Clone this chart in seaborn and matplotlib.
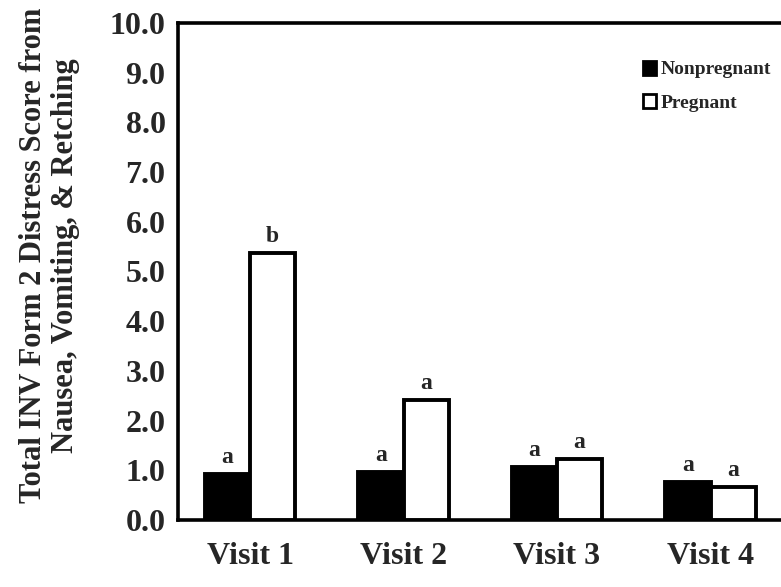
import matplotlib
matplotlib.use("Agg")
import matplotlib.pyplot as plt
from matplotlib.patches import Patch
import seaborn as sns
import pandas as pd

visits = ["Visit 1", "Visit 2", "Visit 3", "Visit 4"]
nonpregnant = [0.93, 0.97, 1.07, 0.77]
pregnant = [5.37, 2.42, 1.22, 0.66]
letters_nonpregnant = ["a", "a", "a", "a"]
letters_pregnant = ["b", "a", "a", "a"]
groups = ["Nonpregnant", "Pregnant"]
yticks = [0, 1, 2, 3, 4, 5, 6, 7, 8, 9, 10]

df = pd.DataFrame({
    "Visit": visits * 2,
    "Group": [groups[0]] * 4 + [groups[1]] * 4,
    "Score": nonpregnant + pregnant,
})

sns.set_style("white")
plt.rcParams["font.family"] = ["Liberation Serif", "DejaVu Serif"]
plt.rcParams["font.weight"] = "bold"

fig = plt.figure(figsize=(7.81, 5.87), dpi=100)
ax = fig.add_axes([0.228, 0.114, 0.78, 0.847])

sns.barplot(data=df, x="Visit", y="Score", hue="Group", order=visits,
            hue_order=groups, palette={"Nonpregnant": "black", "Pregnant": "white"},
            width=0.59, gap=0, edgecolor="black", linewidth=2.8,
            legend=False, ax=ax, zorder=3)

# significance letters above each bar
half = 0.59 / 4
for i, v in enumerate(visits):
    ax.text(i - half, nonpregnant[i] + 0.12, letters_nonpregnant[i],
            ha="center", va="bottom", fontsize=17, fontweight="bold")
    ax.text(i + half, pregnant[i] + 0.12, letters_pregnant[i],
            ha="center", va="bottom", fontsize=17, fontweight="bold")

ax.set_xlim(-0.469, 3.50)
ax.set_ylim(0, 10)
ax.set_yticks(yticks)
ax.set_yticklabels([f"{t:.1f}" for t in yticks])
ax.tick_params(axis="y", direction="out", length=3, width=1, pad=6,
               labelsize=23)
ax.tick_params(axis="x", length=0, pad=16, labelsize=23)
for lab in ax.get_xticklabels() + ax.get_yticklabels():
    lab.set_fontweight("bold")
ax.set_xlabel("")
ax.set_ylabel("")

for side in ["left", "bottom", "top"]:
    ax.spines[side].set_visible(True)
    ax.spines[side].set_linewidth(2.6)
    ax.spines[side].set_color("black")
ax.spines["right"].set_visible(False)

fig.text(0.063, 0.565,
         "Total INV Form 2 Distress Score from\nNausea, Vomiting, & Retching",
         rotation=90, ha="center", va="center", fontsize=22,
         fontweight="bold", linespacing=1.15)

handles = [Patch(facecolor="black", edgecolor="black", linewidth=2),
           Patch(facecolor="white", edgecolor="black", linewidth=2)]
ax.legend(handles, groups, loc="upper left", bbox_to_anchor=(0.75, 0.94),
          frameon=False, handlelength=0.7, handleheight=0.75,
          handletextpad=0.2, labelspacing=0.8, borderaxespad=0,
          prop={"weight": "bold", "size": 14})

fig.savefig("out.png", dpi=100)
